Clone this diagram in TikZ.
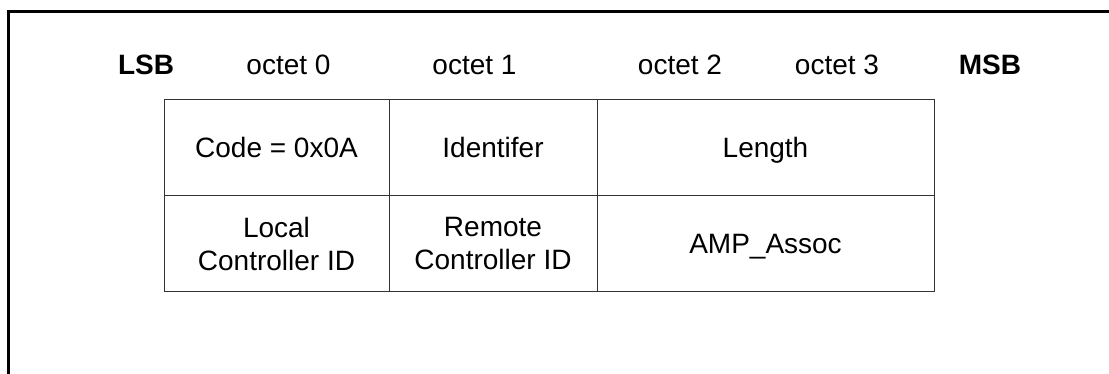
\documentclass[tikz,border=0pt]{standalone}
\usepackage{fontspec}
\setmainfont{Liberation Sans}
\begin{document}
\begin{tikzpicture}[x=1pt,y=-1pt,
  txt/.style={font=\fontsize{28}{33}\selectfont, inner sep=0pt, outer sep=0pt},
  hdr/.style={txt, anchor=base},
  bhdr/.style={hdr, font=\fontsize{28}{33}\selectfont\bfseries},
  cell/.style={txt, draw=black!80, line width=1pt, align=center, anchor=north west},
  onecell/.style={cell, text height=20pt, text depth=0pt}
]
\useasboundingbox (0,0) rectangle (1109,374);
% frame
\draw[line width=2.6pt] (8.5,374) -- (8.5,11.5) -- (1109,11.5);
% header
\node[bhdr] (lsb) at (146,75) {LSB};
\node[hdr] (o0) at (288.5,75) {octet 0};
\node[hdr] (o1) at (474.5,75) {octet 1};
\node[hdr] (o2) at (680,75) {octet 2};
\node[hdr] (o3) at (837,75) {octet 3};
\node[bhdr] (msb) at (990,75) {MSB};
% row 1
\node[onecell, minimum width=225pt, minimum height=96pt] (code) at (164,100) {Code = 0x0A};
\node[onecell, minimum width=208pt, minimum height=96pt] (ident) at (389,100) {Identifer};
\node[onecell, minimum width=337pt, minimum height=96pt] (len) at (597,100) {Length};
% row 2
\node[cell, minimum width=225pt, minimum height=96pt] (lcid) at (164,196) {Local\\Controller ID};
\node[cell, minimum width=208pt, minimum height=96pt] (rcid) at (389,196) {Remote\\Controller ID};
\node[onecell, minimum width=337pt, minimum height=96pt] (amp) at (597,196) {AMP\_Assoc};
\end{tikzpicture}
\end{document}
